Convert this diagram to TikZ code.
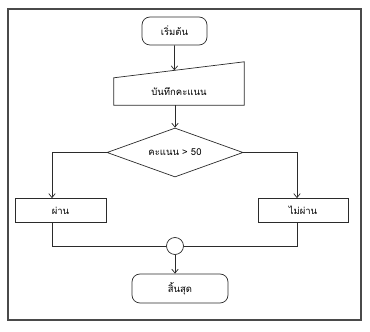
\documentclass[tikz,border=0pt]{standalone}
\usepackage{fontspec}
\newfontfamily\thaifont[Script=Thai]{Loma}
\usepackage{tikz}
\usetikzlibrary{positioning, arrows.meta, calc, shapes.geometric}
\definecolor{edge}{HTML}{2B2B2B}
\definecolor{frame}{HTML}{4A4A4A}

\tikzset{
  box/.style={draw=edge, line width=0.7pt, minimum width=#1, minimum height=24pt, inner sep=0pt},
  term/.style={draw=edge, line width=0.7pt, rounded corners=8pt, minimum width=#1, inner sep=0pt},
  flow/.style={draw=edge, line width=0.7pt, -{Straight Barb[length=4pt, width=6.5pt]}},
  link/.style={draw=edge, line width=0.7pt}
}

\begin{document}
\begin{tikzpicture}[x=1pt, y=1pt, font=\thaifont\fontsize{9.5}{11}\selectfont]
    \useasboundingbox (0,0) rectangle (370,332);
    \draw[frame, line width=1.3pt] (8,12) rectangle (361,323);

    \node[term=65pt, minimum height=28pt] (start) at (174.5,301) {เริ่มต้น};
    \node[minimum width=130pt, minimum height=27pt, inner sep=0pt] (inp) at (179,240.5) {บันทึกคะแนน};
    \coordinate (inp-ne) at ($(inp.north east)+(0,16)$);
    \draw[link] (inp.north west) -- (inp-ne) -- (inp.south east) -- (inp.south west) -- cycle;
    \node[draw=edge, line width=0.7pt, diamond, aspect=2.8, inner sep=0pt,
          minimum width=136pt, minimum height=49pt] (dec) at (175,179.5) {คะแนน > 50};
    \node[box=91pt] (pass) at (60.5,121.5) {ผ่าน};
    \node[box=90pt] (fail) at (303,121.5) {ไม่ผ่าน};
    \node[draw=edge, line width=0.7pt, circle, minimum size=17pt, inner sep=0pt] (join) at (175,86) {};
    \node[term=96pt, minimum height=29pt] (stop) at (180,43.5) {สิ้นสุด};

    \draw[flow] (start.south) -- ($(inp.north west)!0.465!(inp-ne)$);
    \draw[flow] (inp.south -| dec.north) -- (dec.north);
    \draw[flow] (dec.west) -| ([xshift=-8.5pt]pass.north);
    \draw[flow] (dec.east) -| ([xshift=-6pt]fail.north);
    \draw[link] ([xshift=-8.5pt]pass.south) |- (join.west);
    \draw[link] ([xshift=-6pt]fail.south) |- (join.east);
    \draw[flow] (join.south) -- (join.south |- stop.north);
  \end{tikzpicture}
\end{document}
